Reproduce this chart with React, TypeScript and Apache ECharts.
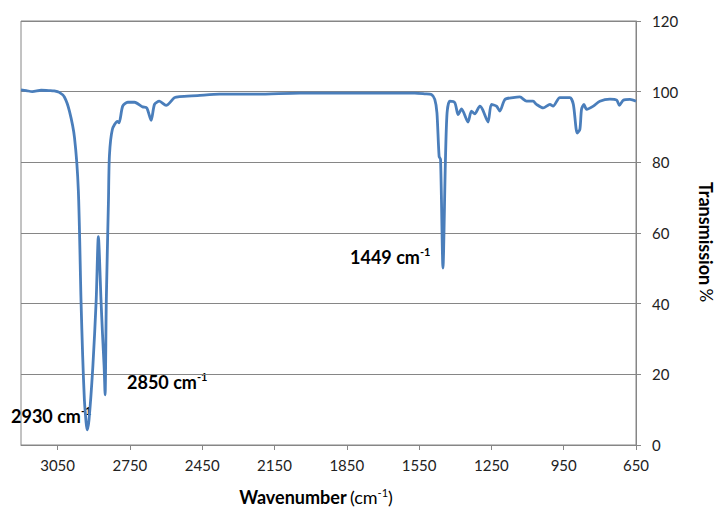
import React, { useEffect, useRef } from "react";
import * as echarts from "echarts";

// IR spectrum (wavenumber in cm-1, transmission in %)
const wavenumber = [
  3202, 3180, 3155, 3118, 3084, 3064, 3043, 3022, 3001, 2980, 2964, 2953, 2946, 2939, 2932,
  2928, 2920, 2904, 2890, 2881, 2870, 2864, 2857, 2853, 2848, 2839, 2835, 2823, 2802, 2795, 2780,
  2759, 2731, 2697, 2680, 2662, 2648, 2628, 2600, 2565, 2544, 2470, 2378, 2220, 2046, 1838, 1568,
  1527, 1499, 1485, 1476, 1467, 1461, 1451, 1441, 1434, 1423, 1402, 1388, 1374, 1347, 1333, 1319,
  1298, 1287, 1264, 1250, 1229, 1215, 1194, 1160, 1132, 1104, 1077, 1063, 1035, 1007, 994, 966,
  924, 910, 894, 883, 876, 866, 855, 827, 800, 758, 730, 719, 703, 675, 650,
];
const transmission = [
  100.5, 100.3, 100.0, 100.4, 100.3, 100.2, 99.8, 98.5, 94.5, 87, 72, 41, 25, 12.8, 6.5,
  4.3, 7, 22, 41, 59, 41, 31.7, 22, 14.2, 41, 69.4, 82, 89.3, 91.6, 91.2, 95.9,
  97, 97, 95.7, 95.4, 91.9, 96.4, 97.3, 96.1, 98.3, 98.6, 98.9, 99.3, 99.3, 99.6, 99.6, 99.6,
  99.4, 99.2, 97.8, 94, 81.7, 80.8, 50.1, 80, 94, 97.3, 96.9, 93.5, 95.1, 91.4, 94.5, 93.7,
  95.9, 95, 91.4, 96.4, 95.9, 94.5, 97.8, 98.3, 98.5, 97.3, 97.3, 96.4, 95.4, 96.4, 95.9, 98.3,
  98.3, 96.4, 88.3, 89.3, 95, 96.4, 95, 95.9, 97.3, 97.9, 97.6, 96.1, 97.6, 97.8, 97.3,
];

const peakLabels = ["2930", "2850", "1449"];
const unit = "cm";
const unitSup = "-1";
const xTitle = "Wavenumber";
const yTitle = "Transmission";

const FONT = "Lato, 'Open Sans', sans-serif";
const AXIS_GRAY = "#868686";

export default function App() {
  const ref = useRef<HTMLDivElement>(null);

  useEffect(() => {
    document.body.style.margin = "0";
    const chart = echarts.init(ref.current as HTMLDivElement, null, { renderer: "svg" });
    const data = wavenumber.map((w, i) => [w, transmission[i]]);

    const peakRich = {
      b: { fontFamily: FONT, fontSize: 18, fontWeight: "bold", color: "#000", lineHeight: 22 },
      s: { fontFamily: FONT, fontSize: 11, fontWeight: "bold", color: "#000", lineHeight: 12, verticalAlign: "top" },
    };
    const peakText = (name: string, x: number, y: number) => ({
      type: "text",
      x,
      y,
      style: {
        text: `{b|${name} ${unit}}{s|${unitSup}}`,
        rich: peakRich,
        align: "left",
        verticalAlign: "middle",
      },
    });

    chart.setOption({
      animation: false,
      backgroundColor: "#fff",
      grid: {
        left: 21,
        right: 82,
        top: 21,
        bottom: 65,
        show: true,
        borderColor: AXIS_GRAY,
        borderWidth: 1,
        backgroundColor: "transparent",
      },
      xAxis: {
        type: "value",
        min: 650,
        max: 3202,
        interval: 300,
        inverse: true,
        axisLine: { show: true, lineStyle: { color: AXIS_GRAY, width: 1 } },
        axisTick: { show: true, length: 5, lineStyle: { color: AXIS_GRAY } },
        axisLabel: {
          showMaxLabel: false,
          margin: 12,
          fontFamily: FONT,
          fontSize: 15,
          color: "#222",
          formatter: (v: number) => String(v),
        },
        splitLine: { show: false },
      },
      yAxis: {
        type: "value",
        position: "right",
        min: 0,
        max: 120,
        interval: 20,
        axisLine: { show: true, lineStyle: { color: AXIS_GRAY, width: 1 } },
        axisTick: { show: true, length: 5, lineStyle: { color: AXIS_GRAY } },
        axisLabel: { margin: 16, fontFamily: FONT, fontSize: 15, color: "#222", formatter: (v: number) => String(v) },
        splitLine: { show: true, lineStyle: { color: AXIS_GRAY, width: 1 } },
      },
      series: [
        {
          type: "line",
          data,
          showSymbol: false,
          symbol: "none",
          smooth: 0.25,
          lineStyle: { color: "#4A7EBB", width: 2.8 },
          z: 3,
        },
      ],
      graphic: [
        peakText(peakLabels[0], 11, 416),
        peakText(peakLabels[1], 127, 382),
        peakText(peakLabels[2], 350, 257),
        {
          type: "text",
          x: 316,
          y: 497,
          style: {
            text: `{b|${xTitle}} {n|(${unit}}{s|${unitSup}}{n|)}`,
            rich: {
              b: { fontFamily: FONT, fontSize: 18, fontWeight: "bold", color: "#000", lineHeight: 20 },
              n: { fontFamily: FONT, fontSize: 18, color: "#000", lineHeight: 20 },
              s: { fontFamily: FONT, fontSize: 11, color: "#000", lineHeight: 11, verticalAlign: "top" },
            },
            align: "center",
            verticalAlign: "middle",
          },
        },
        {
          type: "text",
          x: 706,
          y: 242,
          rotation: -Math.PI / 2,
          style: {
            text: `{b|${yTitle}} {n|%}`,
            rich: {
              b: { fontFamily: FONT, fontSize: 18, fontWeight: "bold", color: "#000", lineHeight: 22 },
              n: { fontFamily: FONT, fontSize: 17, color: "#000", lineHeight: 22 },
            },
            align: "center",
            verticalAlign: "middle",
          },
        },
      ],
    });
    return () => chart.dispose();
  }, []);

  return <div ref={ref} style={{ width: 718, height: 510 }} />;
}
